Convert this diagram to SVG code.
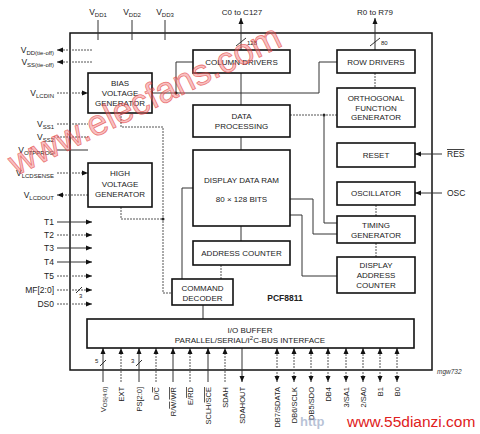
<svg xmlns="http://www.w3.org/2000/svg" width="480" height="434" viewBox="0 0 480 434">
<style>
.box{fill:#fff;stroke:#111;stroke-width:1.6}
.t{font-family:"Liberation Sans",Arial,sans-serif;font-size:8px;fill:#222;text-anchor:middle}
.l{font-family:"Liberation Sans",Arial,sans-serif;font-size:8.5px;fill:#222;text-anchor:end}
.r{font-family:"Liberation Sans",Arial,sans-serif;font-size:8.5px;fill:#222;text-anchor:start}
.p{font-family:"Liberation Sans",Arial,sans-serif;font-size:7.5px;fill:#222;text-anchor:end}
.s{font-size:6px}
.c{stroke:#333;stroke-width:1;fill:none}
.d{stroke:#555;stroke-width:1;stroke-dasharray:2 1;fill:none}
.sm{font-family:"Liberation Sans",Arial,sans-serif;font-size:6px;fill:#222}
.ov{text-decoration:overline}
</style>
<defs>
<marker id="a" viewBox="0 0 6 6" refX="6" refY="3" markerWidth="6" markerHeight="6" markerUnits="userSpaceOnUse" orient="auto">
<path d="M0,0.5 L6,3 L0,5.5 Z" fill="#111"/>
</marker>
<marker id="b" viewBox="0 0 6 6" refX="0" refY="3" markerWidth="6" markerHeight="6" markerUnits="userSpaceOnUse" orient="auto">
<path d="M6,0.5 L0,3 L6,5.5 Z" fill="#111"/>
</marker>
</defs>
<rect width="480" height="434" fill="#fff"/>

<!-- outer chip -->
<rect id="chip" x="70" y="33" width="362" height="337" fill="none" stroke="#111" stroke-width="1.5"/>

<g id="connectors">
<!-- top supply -->
<path class="c" d="M98,20V40M132,20V40M165,20V40"/>
<path class="c" d="M241,50V18" marker-end="url(#a)"/>
<path class="c" d="M236,46L246,38"/>
<path class="c" d="M375,50V18" marker-end="url(#a)"/>
<path class="c" d="M370,46L380,38"/>
<!-- left pins -->
<path class="d" d="M92,50H57" marker-end="url(#a)"/>
<path class="d" d="M92,62H57" marker-end="url(#a)"/>
<path class="d" d="M57,93H88" marker-end="url(#a)"/>
<path class="d" d="M57,124H88M57,137H88"/>
<path class="c" d="M57,150H88"/>
<path class="d" d="M57,173H88" marker-end="url(#a)"/>
<path class="d" d="M88,195H57" marker-end="url(#a)"/>
<path class="c" d="M57,222H92" marker-end="url(#a)"/>
<path class="d" d="M57,235H92" marker-end="url(#a)"/>
<path class="c" d="M57,248H92" marker-end="url(#a)"/>
<path class="c" d="M57,262H92" marker-end="url(#a)"/>
<path class="d" d="M57,276H92" marker-end="url(#a)"/>
<path class="d" d="M57,290H92" marker-end="url(#a)"/>
<path class="c" d="M76,293L82,287"/>
<path class="d" d="M57,304H92" marker-end="url(#a)"/>
<!-- right pins -->
<path class="c" d="M442,154H415" marker-end="url(#a)"/>
<path class="c" d="M442,193H415" marker-end="url(#a)"/>
<!-- internal -->
<path class="c" d="M152,93H319V62H337"/>
<path class="c" d="M176,93V62H193"/>
<circle cx="176" cy="93" r="1.5" fill="#222"/>
<path class="d" d="M121,113V127H163V293H172"/>
<path class="d" d="M121,207V219H163"/>
<circle cx="163" cy="219" r="1.5" fill="#222"/>
<path class="c" d="M241,73V105M241,137V150M241,226V241"/>
<path class="d" d="M221,265V279"/>
<path class="c" d="M203,305V319"/>
<path class="c" d="M182,279V188H193"/>
<path class="d" d="M290,115H337"/>
<circle cx="324" cy="115" r="1.5" fill="#222"/>
<path class="c" d="M324,115V223H337"/>
<path class="c" d="M290,199H313V234H337"/>
<path class="c" d="M290,215H302V276H337"/>
<path class="d" d="M375,73V88"/>
<path class="d" d="M376,205V216M376,243V257"/>
<!-- bottom pins -->
<path class="c" d="M103,382V348" marker-end="url(#a)"/>
<path class="c" d="M100,366L106,360"/>
<path class="d" d="M121,382V348" marker-end="url(#a)"/>
<path class="c" d="M139,382V348" marker-end="url(#a)"/>
<path class="c" d="M136,366L142,360"/>
<path class="d" d="M156,382V348" marker-end="url(#a)"/>
<path class="c" d="M173,382V348" marker-end="url(#a)"/>
<path class="d" d="M190,382V348" marker-end="url(#a)"/>
<path class="c" d="M208,382V348" marker-end="url(#a)"/>
<path class="d" d="M225,382V348" marker-end="url(#a)"/>
<path class="c" d="M242,348V382" marker-end="url(#a)"/>
<path class="d" d="M277,348V382" marker-start="url(#b)" marker-end="url(#a)"/>
<path class="d" d="M294,348V382" marker-start="url(#b)" marker-end="url(#a)"/>
<path class="d" d="M311,348V382" marker-start="url(#b)" marker-end="url(#a)"/>
<path class="d" d="M328,348V382" marker-start="url(#b)" marker-end="url(#a)"/>
<path class="d" d="M346,348V382" marker-start="url(#b)" marker-end="url(#a)"/>
<path class="d" d="M363,348V382" marker-start="url(#b)" marker-end="url(#a)"/>
<path class="d" d="M380,348V382" marker-start="url(#b)" marker-end="url(#a)"/>
<path class="d" d="M397,348V382" marker-start="url(#b)" marker-end="url(#a)"/>
</g>

<g id="column-drivers"><rect class="box" x="193" y="50" width="97" height="23"/><text class="t" x="241.5" y="64.5">COLUMN DRIVERS</text></g>
<g id="row-drivers"><rect class="box" x="337" y="50" width="78" height="23"/><text class="t" x="376" y="64.5">ROW DRIVERS</text></g>
<g id="bias-gen"><rect class="box" x="88" y="73" width="64" height="40"/><text class="t" x="120" y="86">BIAS</text><text class="t" x="120" y="96">VOLTAGE</text><text class="t" x="120" y="106">GENERATOR</text></g>
<g id="ortho-gen"><rect class="box" x="337" y="88" width="78" height="39"/><text class="t" x="376" y="101">ORTHOGONAL</text><text class="t" x="376" y="110.5">FUNCTION</text><text class="t" x="376" y="120">GENERATOR</text></g>
<g id="data-proc"><rect class="box" x="193" y="105" width="97" height="32"/><text class="t" x="241.5" y="119">DATA</text><text class="t" x="241.5" y="129">PROCESSING</text></g>
<g id="ram"><rect class="box" x="193" y="150" width="97" height="76"/><text class="t" x="241.5" y="183">DISPLAY DATA RAM</text><text class="t" x="241.5" y="202">80 × 128 BITS</text></g>
<g id="reset"><rect class="box" x="337" y="143" width="78" height="24"/><text class="t" x="376" y="158">RESET</text></g>
<g id="oscillator"><rect class="box" x="337" y="182" width="78" height="23"/><text class="t" x="376" y="196">OSCILLATOR</text></g>
<g id="timing-gen"><rect class="box" x="337" y="216" width="78" height="27"/><text class="t" x="376" y="228">TIMING</text><text class="t" x="376" y="237.5">GENERATOR</text></g>
<g id="disp-addr"><rect class="box" x="337" y="257" width="78" height="36"/><text class="t" x="376" y="268">DISPLAY</text><text class="t" x="376" y="278">ADDRESS</text><text class="t" x="376" y="288">COUNTER</text></g>
<g id="addr-counter"><rect class="box" x="193" y="241" width="97" height="24"/><text class="t" x="241.5" y="256">ADDRESS COUNTER</text></g>
<g id="cmd-decoder"><rect class="box" x="172" y="279" width="61" height="26"/><text class="t" x="202.5" y="291">COMMAND</text><text class="t" x="202.5" y="301">DECODER</text></g>
<g id="hv-gen"><rect class="box" x="88" y="163" width="64" height="44"/><text class="t" x="120" y="176">HIGH</text><text class="t" x="120" y="187">VOLTAGE</text><text class="t" x="120" y="197">GENERATOR</text></g>
<g id="io-buffer"><rect class="box" x="87" y="319" width="327" height="29"/><text class="t" x="250" y="333">I/O BUFFER</text><text class="t" x="250" y="343">PARALLEL/SERIAL/I<tspan class="s" dy="-3">2</tspan><tspan dy="3">C-BUS INTERFACE</tspan></text></g>

<text class="t" x="285" y="301" font-weight="bold" style="font-size:8.5px">PCF8811</text>

<!-- top labels -->
<text class="t" x="98" y="15" style="font-size:8.5px">V<tspan class="s" dy="1.5">DD1</tspan></text>
<text class="t" x="132" y="15" style="font-size:8.5px">V<tspan class="s" dy="1.5">DD2</tspan></text>
<text class="t" x="165" y="15" style="font-size:8.5px">V<tspan class="s" dy="1.5">DD3</tspan></text>
<text class="t" x="242" y="15">C0 to C127</text>
<text class="t" x="375" y="15">R0 to R79</text>
<text class="sm" x="247" y="45">128</text>
<text class="sm" x="381" y="45">80</text>

<!-- left labels -->
<text class="l" x="54" y="53">V<tspan class="s" dy="1.5">DD(tie-off)</tspan></text>
<text class="l" x="54" y="65">V<tspan class="s" dy="1.5">SS(tie-off)</tspan></text>
<text class="l" x="54" y="96">V<tspan class="s" dy="1.5">LCDIN</tspan></text>
<text class="l" x="54" y="127">V<tspan class="s" dy="1.5">SS1</tspan></text>
<text class="l" x="54" y="140">V<tspan class="s" dy="1.5">SS2</tspan></text>
<text class="l" x="54" y="153">V<tspan class="s" dy="1.5">OTPPROG</tspan></text>
<text class="l" x="54" y="176">V<tspan class="s" dy="1.5">LCDSENSE</tspan></text>
<text class="l" x="54" y="198">V<tspan class="s" dy="1.5">LCDOUT</tspan></text>
<text class="l" x="54" y="225">T1</text>
<text class="l" x="54" y="238">T2</text>
<text class="l" x="54" y="251">T3</text>
<text class="l" x="54" y="265">T4</text>
<text class="l" x="54" y="279">T5</text>
<text class="l" x="54" y="293">MF[2:0]</text>
<text class="l" x="54" y="307">DS0</text>
<text class="sm" x="79" y="298">3</text>

<!-- right labels -->
<text class="r" x="447" y="157"><tspan class="ov">RES</tspan></text>
<text class="r" x="447" y="196">OSC</text>

<!-- bottom labels -->
<text class="sm" x="95" y="363">5</text>
<text class="sm" x="131" y="363">3</text>
<text class="p" transform="translate(106,387) rotate(-90)">V<tspan class="s" dy="1">OS[4:0]</tspan></text>
<text class="p" transform="translate(124,387) rotate(-90)">EXT</text>
<text class="p" transform="translate(142,387) rotate(-90)">PS[2:0]</text>
<text class="p" transform="translate(159,387) rotate(-90)">D/<tspan class="ov">C</tspan></text>
<text class="p" transform="translate(176,387) rotate(-90)">R/<tspan class="ov">W</tspan>/<tspan class="ov">WR</tspan></text>
<text class="p" transform="translate(193,387) rotate(-90)">E/<tspan class="ov">RD</tspan></text>
<text class="p" transform="translate(211,387) rotate(-90)">SCLH/<tspan class="ov">SCE</tspan></text>
<text class="p" transform="translate(228,387) rotate(-90)">SDAH</text>
<text class="p" transform="translate(245,387) rotate(-90)">SDAHOUT</text>
<text class="p" transform="translate(280,387) rotate(-90)">DB7/SDATA</text>
<text class="p" transform="translate(297,387) rotate(-90)">DB6/SCLK</text>
<text class="p" transform="translate(314,387) rotate(-90)">DB5/SDO</text>
<text class="p" transform="translate(331,387) rotate(-90)">DB4</text>
<text class="p" transform="translate(349,387) rotate(-90)">3/SA1</text>
<text class="p" transform="translate(366,387) rotate(-90)">2/SA0</text>
<text class="p" transform="translate(383,387) rotate(-90)">B1</text>
<text class="p" transform="translate(400,387) rotate(-90)">B0</text>

<text x="437" y="374" font-family="Liberation Sans,Arial,sans-serif" font-size="6.5" font-style="italic" fill="#333">mgw732</text>

<!-- watermarks -->
<text x="16" y="176" transform="rotate(-26 16 176)" font-family="Liberation Sans,Arial,sans-serif" font-size="36" fill="#f07070" fill-opacity="0.45" stroke="#e03030" stroke-opacity="0.6" stroke-width="0.8">www.elecfans.com</text>
<text x="300" y="426" font-family="Liberation Sans,Arial,sans-serif" font-size="13" font-weight="bold" fill="#8899bb" fill-opacity="0.6">http</text>
<text x="347" y="427" font-family="Liberation Sans,Arial,sans-serif" font-size="15.5" fill="#e02020">www.55dianzi.com</text>
</svg>
